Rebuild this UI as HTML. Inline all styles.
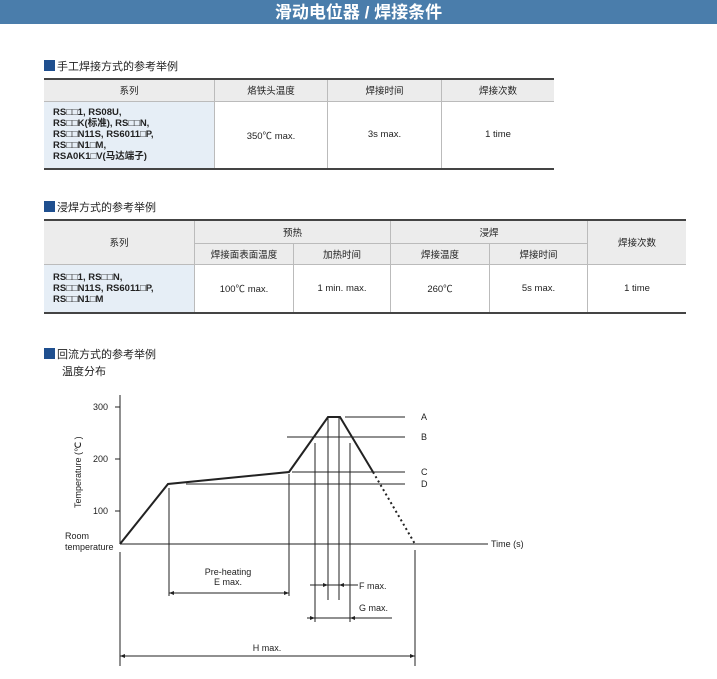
<!DOCTYPE html>
<html><head><meta charset="utf-8"><style>
body{margin:0;width:717px;height:679px;background:#fff;position:relative;overflow:hidden;font-family:"Liberation Sans","Noto Sans CJK SC",sans-serif;color:#222}
.bar{position:absolute;left:0;top:0;width:717px;height:24px;background:#4a7dab;color:#fff;font-weight:bold;font-size:17px;text-align:center;line-height:25px}
.h{position:absolute;font-size:11px;line-height:12px}
.h i{display:inline-block;width:11px;height:11px;background:#1f4f8f;vertical-align:-1px;margin-right:2px}
table{position:absolute;border-collapse:collapse;font-size:9.5px}
td{border:1px solid #bbb;text-align:center;padding:0}
tr.hd td{background:#ececec}
td.s{background:#e6eef6;text-align:left;font-weight:bold;padding-left:9px;line-height:11px}
table.t{border-top:2px solid #444;border-bottom:2px solid #444}
td:first-child{border-left:none} td:last-child{border-right:none}
</style></head><body>
<div class="bar">滑动电位器 / 焊接条件</div>
<div class="h" style="left:44px;top:60px"><i></i>手工焊接方式的参考举例</div>
<table class="t" style="left:44px;top:78px;width:510px">
<tr class="hd" style="height:22px"><td style="width:170px">系列</td><td style="width:112px">烙铁头温度</td><td style="width:113px">焊接时间</td><td>焊接次数</td></tr>
<tr style="height:68px"><td class="s">RS□□1, RS08U,<br>RS□□K(标准), RS□□N,<br>RS□□N11S, RS6011□P,<br>RS□□N1□M,<br>RSA0K1□V(马达端子)</td><td>350℃ max.</td><td>3s max.</td><td>1 time</td></tr>
</table>
<div class="h" style="left:44px;top:201px"><i></i>浸焊方式的参考举例</div>
<table class="t" style="left:44px;top:219px;width:642px">
<tr class="hd" style="height:23px"><td rowspan="2" style="width:150px">系列</td><td colspan="2">预热</td><td colspan="2">浸焊</td><td rowspan="2">焊接次数</td></tr>
<tr class="hd" style="height:21px"><td style="width:98px">焊接面表面温度</td><td style="width:96px">加热时间</td><td style="width:98px">焊接温度</td><td style="width:97px">焊接时间</td></tr>
<tr style="height:49px"><td class="s">RS□□1, RS□□N,<br>RS□□N11S, RS6011□P,<br>RS□□N1□M</td><td>100℃ max.</td><td>1 min. max.</td><td>260℃</td><td>5s max.</td><td>1 time</td></tr>
</table>
<div class="h" style="left:44px;top:348px"><i></i>回流方式的参考举例</div>
<div class="h" style="left:62px;top:366px">温度分布</div>
<svg style="position:absolute;left:0;top:0" width="717" height="679" font-family="Liberation Sans,sans-serif" font-size="9" fill="#222">
<g stroke="#222" stroke-width="1" fill="none">
<line x1="120" y1="395" x2="120" y2="544"/>
<line x1="115" y1="407" x2="120" y2="407"/><line x1="115" y1="459" x2="120" y2="459"/><line x1="115" y1="511" x2="120" y2="511"/>
<line x1="120" y1="544" x2="488" y2="544"/>
<polyline stroke-width="2" points="120,544 168,484 289,472 328,417 340,417 373,472"/>
<line x1="373" y1="472" x2="415" y2="544" stroke-width="2" stroke-dasharray="2,3"/>
<line x1="345" y1="417" x2="405" y2="417"/>
<line x1="287" y1="437" x2="405" y2="437"/>
<line x1="292" y1="472" x2="405" y2="472"/>
<line x1="186" y1="484" x2="405" y2="484"/>
<line x1="169" y1="488" x2="169" y2="596"/><line x1="289" y1="474" x2="289" y2="596"/>
<line x1="169" y1="593" x2="289" y2="593"/>
<line x1="328" y1="417" x2="328" y2="600"/><line x1="339" y1="417" x2="339" y2="600"/>
<line x1="310" y1="585" x2="358" y2="585"/>
<line x1="315" y1="443" x2="315" y2="622"/><line x1="350" y1="443" x2="350" y2="622"/>
<line x1="307" y1="618" x2="392" y2="618"/>
<line x1="120" y1="552" x2="120" y2="666"/><line x1="415" y1="550" x2="415" y2="666"/>
<line x1="120" y1="656" x2="415" y2="656"/>
</g>
<g fill="#222">
<path d="M169,593 l5,-2 v4z M289,593 l-5,-2 v4z M328,585 l-5,-2 v4z M339,585 l5,-2 v4z M315,618 l-5,-2 v4z M350,618 l5,-2 v4z M120,656 l5,-2 v4z M415,656 l-5,-2 v4z"/>
</g>
<text x="93" y="410">300</text><text x="93" y="462">200</text><text x="93" y="514">100</text>
<text x="65" y="539">Room</text><text x="65" y="550">temperature</text>
<text transform="translate(81,508) rotate(-90)">Temperature (℃ )</text>
<text x="421" y="420">A</text><text x="421" y="440">B</text><text x="421" y="475">C</text><text x="421" y="487">D</text>
<text x="491" y="547">Time (s)</text>
<text x="228" y="575" text-anchor="middle">Pre-heating</text><text x="228" y="585" text-anchor="middle">E max.</text>
<text x="359" y="589">F max.</text><text x="359" y="611">G max.</text>
<text x="267" y="651" text-anchor="middle">H max.</text>
</svg>
</body></html>
